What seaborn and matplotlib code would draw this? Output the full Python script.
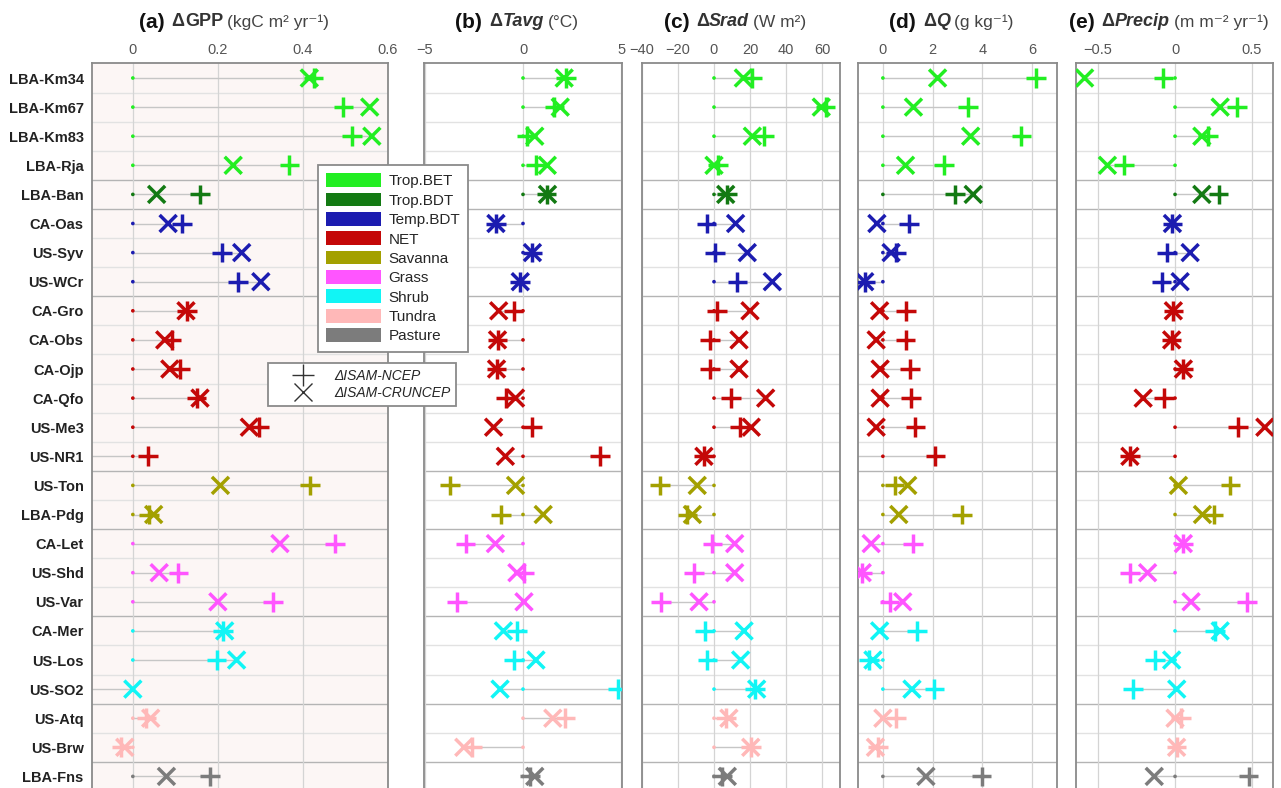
import matplotlib
matplotlib.use("Agg")
import matplotlib.pyplot as plt
from matplotlib.lines import Line2D
from matplotlib.patches import Patch
import numpy as np
import pandas as pd
import seaborn as sns

# ---- data -------------------------------------------------------------
sites = ["LBA-Km34", "LBA-Km67", "LBA-Km83", "LBA-Rja", "LBA-Ban",
         "CA-Oas", "US-Syv", "US-WCr",
         "CA-Gro", "CA-Obs", "CA-Ojp", "CA-Qfo", "US-Me3", "US-NR1",
         "US-Ton", "LBA-Pdg",
         "CA-Let", "US-Shd", "US-Var",
         "CA-Mer", "US-Los", "US-SO2",
         "US-Atq", "US-Brw",
         "LBA-Fns"]
site_groups = ["Trop.BET"] * 4 + ["Trop.BDT"] + ["Temp.BDT"] * 3 + ["NET"] * 6 + \
              ["Savanna"] * 2 + ["Grass"] * 3 + ["Shrub"] * 3 + ["Tundra"] * 2 + ["Pasture"]

group_names = ["Trop.BET", "Trop.BDT", "Temp.BDT", "NET", "Savanna",
               "Grass", "Shrub", "Tundra", "Pasture"]
group_colors = ["#22ee22", "#137a13", "#1c1cb0", "#c40808", "#a3a000",
                "#ff55ff", "#11f5f5", "#ffb8b8", "#7c7c7c"]

# delta GPP (kgC m2 yr-1)
gpp_ncep = [0.425, 0.495, 0.515, 0.368, 0.158, 0.115, 0.209, 0.248, 0.128, 0.091,
            0.111, 0.150, 0.297, 0.035, 0.416, 0.038, 0.475, 0.107, 0.330, 0.212,
            0.197, -0.20, 0.032, -0.027, 0.181]
gpp_cru = [0.415, 0.557, 0.562, 0.236, 0.056, 0.083, 0.256, 0.301, 0.125, 0.075,
           0.087, 0.158, 0.274, -0.20, 0.206, 0.049, 0.346, 0.062, 0.200, 0.216,
           0.244, 0.000, 0.042, -0.019, 0.079]
# delta Tavg (degC)
tavg_ncep = [2.2, 1.6, 0.2, 0.65, 1.2, -1.38, 0.48, -0.14, -0.48, -1.3,
             -1.35, -0.86, 0.48, 3.93, -3.74, -1.12, -2.93, 0.05, -3.36, -0.31,
             -0.47, 4.83, 2.16, -2.59, 0.35]
tavg_cru = [2.1, 1.9, 0.6, 1.24, 1.25, -1.38, 0.48, -0.14, -1.24, -1.3,
            -1.35, -0.38, -1.5, -0.9, -0.38, 1.03, -1.41, -0.31, 0.05, -1.0,
            0.66, -1.17, 1.52, -3.02, 0.6]
# delta Srad (W m2)
srad_ncep = [21.3, 62.0, 27.8, 2.2, 7.4, -4.1, 0.4, 13.0, 1.5, -2.2,
             -2.2, 9.3, 14.4, -5.6, -30.0, -14.8, -0.9, -11.0, -29.6, -5.2,
             -3.7, 22.6, 6.5, 20.4, 4.6]
srad_cru = [16.3, 59.6, 21.3, 0.0, 6.5, 12.0, 18.5, 32.4, 20.0, 13.9,
            13.9, 28.7, 20.7, -5.6, -9.3, -12.0, 11.5, 11.5, -8.3, 16.7,
            14.8, 23.7, 8.3, 20.4, 7.4]
# delta Q (g kg-1)
q_ncep = [6.16, 3.43, 5.57, 2.47, 2.91, 1.04, 0.53, -0.73, 0.93, 0.91,
          1.09, 1.13, 1.31, 2.11, 0.47, 3.17, 1.2, -0.83, 0.27, 1.37,
          -0.56, 2.07, 0.53, -0.2, 3.97]
q_cru = [2.2, 1.23, 3.53, 0.91, 3.63, -0.24, 0.33, -0.73, -0.13, -0.27,
         -0.11, -0.11, -0.27, -1.5, 1.0, 0.64, -0.47, -0.83, 0.8, -0.13,
         -0.4, 1.17, 0.0, -0.3, 1.73]
# delta Precip (m m-2 yr-1)
precip_ncep = [-0.076, 0.402, 0.213, -0.33, 0.283, -0.017, -0.054, -0.087, -0.011, -0.022,
               0.054, -0.07, 0.409, -0.293, 0.359, 0.25, 0.054, -0.293, 0.467, 0.26,
               -0.13, -0.272, 0.04, 0.01, 0.478]
precip_cru = [-0.587, 0.293, 0.174, -0.439, 0.174, -0.017, 0.098, 0.033, -0.011, -0.022,
              0.054, -0.207, 0.583, -0.293, 0.022, 0.178, 0.054, -0.178, 0.104, 0.293,
              -0.022, 0.011, 0.0, 0.01, -0.135]

panel_tags = ["(a)", "(b)", "(c)", "(d)", "(e)"]
panel_vars = ["\u0394GPP", "\u0394Tavg", "\u0394Srad", "\u0394Q", "\u0394Precip"]
panel_units = ["(kgC m\u00b2 yr\u207b\u00b9)", "(\u00b0C)", "(W m\u00b2)",
               "(g kg\u207b\u00b9)", "(m m\u207b\u00b2 yr\u207b\u00b9)"]
panel_ticks = [[0, 0.2, 0.4, 0.6], [-5, 0, 5], [-40, -20, 0, 20, 40, 60],
               [0, 2, 4, 6], [-0.5, 0, 0.5]]
panel_ticklabels = [["0", "0.2", "0.4", "0.6"], ["\u22125", "0", "5"],
                    ["\u221240", "\u221220", "0", "20", "40", "60"],
                    ["0", "2", "4", "6"], ["\u22120.5", "0", "0.5"]]
panel_xlims = [(-0.096, 0.6), (-5.05, 5.05), (-40, 70), (-1.0, 7.0), (-0.643, 0.636)]

# ---- style -------------------------------------------------------------
sns.set_style("white")
plt.rcParams["font.family"] = ["Liberation Sans", "DejaVu Sans"]

W, H = 1281, 788
fig = plt.figure(figsize=(W / 100, H / 100), dpi=100)

# axes boxes in pixels (left, right)
boxes = [(92, 388), (424, 622), (642, 840), (858, 1057), (1076, 1273)]
top_px, bot_px = 63, 800
row0_px, row_step = 78, 29.1

pal = dict(zip(group_names, group_colors))
pos = np.arange(len(sites))
ylim = ((bot_px - row0_px) / row_step, (top_px - row0_px) / row_step)

values = [(gpp_ncep, gpp_cru), (tavg_ncep, tavg_cru), (srad_ncep, srad_cru),
          (q_ncep, q_cru), (precip_ncep, precip_cru)]

axes = []
for i, ((l, r), (ncep, cru)) in enumerate(zip(boxes, values)):
    ax = fig.add_axes([l / W, (H - bot_px) / H, (r - l) / W, (bot_px - top_px) / H])
    axes.append(ax)
    ax.set_facecolor("#fcf6f5" if i == 0 else "white")

    df = pd.DataFrame({"site": sites, "pos": pos, "group": site_groups,
                       "zero": 0.0, "ncep": ncep, "cru": cru})
    lo = df[["zero", "ncep", "cru"]].min(axis=1)
    hi = df[["zero", "ncep", "cru"]].max(axis=1)

    # row guide lines from 0 to the values
    ax.hlines(df["pos"], lo, hi, color="#c6c6c6", lw=1.0, zorder=1)
    # row separators, darker between PFT groups
    for k in range(len(sites) - 1):
        same = site_groups[k] == site_groups[k + 1]
        ax.axhline(k + 0.5, color="#e2e2e2" if same else "#b4b4b4", lw=1.0, zorder=0.5)
    for t in panel_ticks[i]:
        ax.axvline(t, color="#d4d4d4", lw=0.9, zorder=0.5)

    sns.scatterplot(data=df, x="zero", y="pos", hue="group", palette=pal, s=7,
                    linewidth=0, legend=False, ax=ax, zorder=3)
    sns.scatterplot(data=df, x="cru", y="pos", hue="group", palette=pal, marker="x",
                    s=150, linewidth=2.5, legend=False, ax=ax, zorder=4)
    sns.scatterplot(data=df, x="ncep", y="pos", hue="group", palette=pal, marker="+",
                    s=200, linewidth=2.5, legend=False, ax=ax, zorder=5)

    ax.set_xlim(*panel_xlims[i])
    ax.set_ylim(*ylim)
    ax.set_xlabel("")
    ax.set_ylabel("")
    ax.xaxis.tick_top()
    ax.set_xticks(panel_ticks[i])
    ax.set_xticklabels(panel_ticklabels[i])
    ax.tick_params(axis="x", length=0, pad=4, labelsize=10.5, labelcolor="#555555")
    ax.set_yticks(pos)
    if i == 0:
        ax.set_yticklabels(sites, fontweight="bold", fontsize=10.5, color="#222222")
        ax.tick_params(axis="y", length=0, pad=6)
    else:
        ax.tick_params(axis="y", length=0, labelleft=False)
    for sp in ax.spines.values():
        sp.set_color("#8a8a8a")
        sp.set_linewidth(1.3)

# ---- titles built from pieces ---------------------------------------------
fig.canvas.draw()
renderer = fig.canvas.get_renderer()
for i, ax in enumerate(axes):
    pieces = [
        fig.text(0, 1 - 22 / H, panel_tags[i], fontsize=15, fontweight="bold",
                 va="center", color="#111111"),
        fig.text(0, 1 - 22 / H, panel_vars[i][0], fontsize=13, fontweight="bold",
                 va="center", color="#333333"),
        fig.text(0, 1 - 22 / H, panel_vars[i][1:], fontsize=13, fontweight="bold",
                 fontstyle="normal" if i == 0 else "italic", va="center", color="#333333"),
        fig.text(0, 1 - 22 / H, panel_units[i], fontsize=12.5, va="center", color="#444444"),
    ]
    gaps = [7, 0, 4, 0]
    widths = [p.get_window_extent(renderer).width for p in pieces]
    total = sum(widths) + sum(gaps[:-1])
    l, r = boxes[i]
    x = (l + r) / 2 - 6 - total / 2
    for p, w, g in zip(pieces, widths, gaps):
        p.set_x(x / W)
        x += w + g

# ---- legends ---------------------------------------------------------------
pft_handles = [Patch(facecolor=c, edgecolor="none") for c in group_colors]
leg1 = fig.legend(pft_handles, group_names, loc="upper left",
                  bbox_to_anchor=(318 / W, 1 - 165 / H), frameon=True, fancybox=False,
                  edgecolor="#8a8a8a", framealpha=1, fontsize=11,
                  handlelength=3.6, handleheight=1.0, labelspacing=0.28,
                  handletextpad=0.45, borderpad=0.55, borderaxespad=0)
leg1.get_frame().set_linewidth(1.3)

prod_handles = [Line2D([], [], ls="none", marker="+", ms=16, mew=1.0, color="#333333"),
                Line2D([], [], ls="none", marker="x", ms=13, mew=1.0, color="#333333")]
leg2 = fig.legend(prod_handles, ["\u0394ISAM-NCEP", "\u0394ISAM-CRUNCEP"], loc="upper left",
                  bbox_to_anchor=(268 / W, 1 - 363 / H), frameon=True, fancybox=False,
                  edgecolor="#8a8a8a", framealpha=1,
                  prop={"size": 10, "style": "italic"},
                  handlelength=4.3, labelspacing=0.25, handletextpad=0.1,
                  borderpad=0.4, borderaxespad=0)
leg2.get_frame().set_linewidth(1.3)

fig.savefig("out.png", dpi=100)
